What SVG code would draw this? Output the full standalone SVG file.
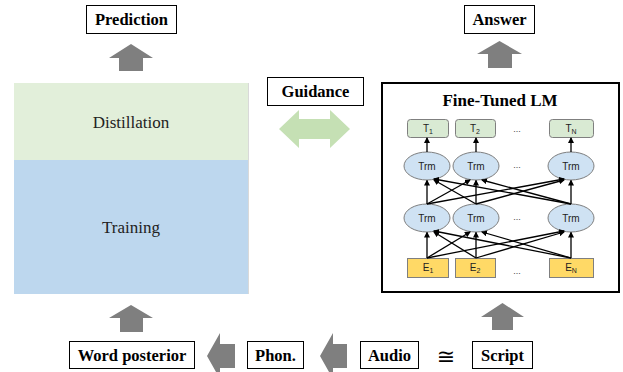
<svg xmlns="http://www.w3.org/2000/svg" width="623" height="372" viewBox="0 0 623 372">
<style>
.lbl{font-family:"Liberation Serif","Times New Roman",serif;font-weight:bold;font-size:16.5px;fill:#000;text-anchor:middle}
.box{fill:#fff;stroke:#000;stroke-width:1}
.garr{fill:#7f7f7f}
.big{font-family:"Liberation Serif","Times New Roman",serif;font-size:17px;fill:#222;text-anchor:middle}
.sm{font-family:"Liberation Sans",Arial,sans-serif;font-size:10px;fill:#222;text-anchor:middle}
.sub{font-size:7px}
.tb{fill:#d9ead3;stroke:#7f7f7f;stroke-width:1}
.eb{fill:#ffd966;stroke:#7f7f7f;stroke-width:1}
.el{fill:#cfe2f3;stroke:#7f7f7f;stroke-width:1}
.ln{stroke:#000;stroke-width:1.3;fill:none;marker-end:url(#ah)}
.dots{font-family:"Liberation Sans",Arial,sans-serif;font-size:9px;fill:#444;text-anchor:middle}
</style>
<defs>
<marker id="ah" markerWidth="6" markerHeight="6" refX="5" refY="3" orient="auto" markerUnits="userSpaceOnUse">
<path d="M0,0 L6,3 L0,6 z" fill="#000"/>
</marker>
</defs>

<g id="student">
<rect x="14" y="83" width="234" height="77" fill="#e2efda"/>
<rect x="14" y="160" width="234" height="134" fill="#bdd7ee"/>
<line x1="248.5" y1="83" x2="248.5" y2="294" stroke="#d9d9d9" stroke-width="1"/>
<text class="big" x="131" y="128">Distillation</text>
<text class="big" x="131" y="233">Training</text>
</g>

<g id="prediction">
<rect class="box" x="86.5" y="5.5" width="90" height="28"/>
<text class="lbl" x="131.5" y="25">Prediction</text>
</g>

<g id="answer">
<rect class="box" x="464.5" y="5.5" width="70" height="28"/>
<text class="lbl" x="499.5" y="25">Answer</text>
</g>

<g id="guidance">
<rect class="box" x="267.5" y="77.5" width="96" height="28"/>
<text class="lbl" x="315.5" y="97">Guidance</text>
</g>

<g id="word-posterior">
<rect class="box" x="69.5" y="341.5" width="125" height="27"/>
<text class="lbl" x="132" y="361">Word posterior</text>
</g>
<g id="phon">
<rect class="box" x="247.5" y="341.5" width="56" height="27"/>
<text class="lbl" x="275.5" y="361">Phon.</text>
</g>
<g id="audio">
<rect class="box" x="360.5" y="341.5" width="58" height="27"/>
<text class="lbl" x="389.5" y="361">Audio</text>
</g>
<g id="approx">
<text x="446" y="364" font-family="DejaVu Sans,sans-serif" font-size="22" text-anchor="middle" fill="#000">≅</text>
</g>
<g id="script">
<rect class="box" x="472.5" y="341.5" width="60" height="27"/>
<text class="lbl" x="502.5" y="361">Script</text>
</g>

<g id="finetuned-lm">
<rect x="382" y="83" width="237" height="209" fill="#fff" stroke="#000" stroke-width="2"/>
<text x="500" y="106" font-family="Liberation Serif,Times New Roman,serif" font-weight="bold" font-size="17" text-anchor="middle">Fine-Tuned LM</text>

<rect class="tb" x="407.5" y="119.5" width="41" height="18" rx="3"/>
<rect class="tb" x="455.5" y="119.5" width="40" height="18" rx="3"/>
<rect class="tb" x="549.5" y="119.5" width="44" height="18" rx="3"/>
<text class="sm" x="428" y="132">T<tspan class="sub" dy="2">1</tspan></text>
<text class="sm" x="475" y="132">T<tspan class="sub" dy="2">2</tspan></text>
<text class="sm" x="571" y="132">T<tspan class="sub" dy="2">N</tspan></text>
<text class="dots" x="517" y="132">...</text>

<ellipse class="el" cx="427" cy="166" rx="23" ry="14"/>
<ellipse class="el" cx="476" cy="166" rx="23" ry="14"/>
<ellipse class="el" cx="571" cy="166" rx="23" ry="14"/>
<text class="sm" x="427" y="170">Trm</text>
<text class="sm" x="476" y="170">Trm</text>
<text class="sm" x="571" y="170">Trm</text>
<text class="dots" x="517" y="168">...</text>

<ellipse class="el" cx="427" cy="218" rx="23" ry="14"/>
<ellipse class="el" cx="476" cy="218" rx="23" ry="14"/>
<ellipse class="el" cx="571" cy="218" rx="23" ry="14"/>
<text class="sm" x="427" y="222">Trm</text>
<text class="sm" x="476" y="222">Trm</text>
<text class="sm" x="571" y="222">Trm</text>
<text class="dots" x="517" y="220">...</text>

<rect class="eb" x="407.5" y="258.5" width="41" height="19"/>
<rect class="eb" x="455.5" y="258.5" width="40" height="19"/>
<rect class="eb" x="549.5" y="258.5" width="44" height="19"/>
<text class="sm" x="428" y="271">E<tspan class="sub" dy="2">1</tspan></text>
<text class="sm" x="475" y="271">E<tspan class="sub" dy="2">2</tspan></text>
<text class="sm" x="571" y="271">E<tspan class="sub" dy="2">N</tspan></text>
<text class="dots" x="517" y="274">...</text>
</g>

<g id="connectors">
<path class="garr" d="M131,44 L153,58 L143,58 L143,71 L119,71 L119,58 L109,58 Z"/>
<path class="garr" d="M499.5,41 L522,54 L512,54 L512,68 L488,68 L488,54 L477,54 Z"/>
<path class="garr" d="M131,305 L153,318 L143,318 L143,332 L120,332 L120,318 L109,318 Z"/>
<path class="garr" d="M502.5,303 L524,317 L513,317 L513,330 L492,330 L492,317 L481,317 Z"/>
<path class="garr" d="M207,356 L220,333 L220,344 L235,344 L235,368 L220,368 L220,379 Z"/>
<path class="garr" d="M320,356 L333,333 L333,344 L347,344 L347,368 L333,368 L333,379 Z"/>
<path d="M279,129 L299,110 L299,119 L330,119 L330,110 L350,129 L330,148 L330,139 L299,139 L299,148 Z" fill="#c5e0b4"/>

<line class="ln" x1="427" y1="152" x2="427" y2="138"/>
<line class="ln" x1="476" y1="152" x2="476" y2="138"/>
<line class="ln" x1="571" y1="152" x2="571" y2="138"/>
<line class="ln" x1="427" y1="204" x2="427" y2="180.5"/>
<line class="ln" x1="427" y1="204" x2="470" y2="180"/>
<line class="ln" x1="427" y1="204" x2="564" y2="179"/>
<line class="ln" x1="476" y1="204" x2="434" y2="180"/>
<line class="ln" x1="476" y1="204" x2="476" y2="180.5"/>
<line class="ln" x1="476" y1="204" x2="564" y2="180"/>
<line class="ln" x1="571" y1="204" x2="434" y2="179"/>
<line class="ln" x1="571" y1="204" x2="482" y2="180"/>
<line class="ln" x1="571" y1="204" x2="571" y2="180.5"/>
<line class="ln" x1="427" y1="258" x2="427" y2="232.5"/>
<line class="ln" x1="427" y1="258" x2="470" y2="232"/>
<line class="ln" x1="427" y1="258" x2="564" y2="231"/>
<line class="ln" x1="476" y1="258" x2="434" y2="232"/>
<line class="ln" x1="476" y1="258" x2="476" y2="232.5"/>
<line class="ln" x1="476" y1="258" x2="564" y2="232"/>
<line class="ln" x1="571" y1="258" x2="434" y2="231"/>
<line class="ln" x1="571" y1="258" x2="482" y2="232"/>
<line class="ln" x1="571" y1="258" x2="571" y2="232.5"/>
</g>
</svg>
